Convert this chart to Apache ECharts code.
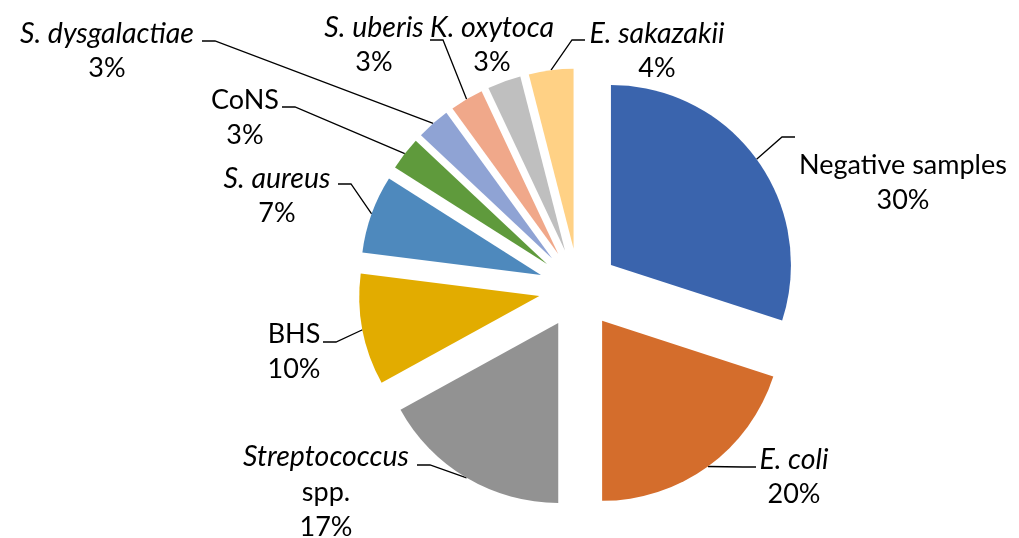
<!DOCTYPE html>
<html><head><meta charset="utf-8">
<script src="https://cdn.jsdelivr.net/npm/echarts@6/dist/echarts.min.js"></script>
<style>html,body{margin:0;padding:0;background:#fff}#c{width:1019px;height:538px}</style>
</head><body><div id="c"></div>
<script>
const categories = ['Negative samples','E. coli','Streptococcus spp.','BHS','S. aureus','CoNS','S. dysgalactiae','S. uberis','K. oxytoca','E. sakazakii'];
const values = [30,20,17,10,7,3,3,3,3,4];
// label text lines; '*' prefix marks italic text
const labelLines = [['Negative samples'],['*E. coli'],['*Streptococcus','spp.'],['BHS'],['*S. aureus'],['CoNS'],['*S. dysgalactiae'],['*S. uberis'],['*K. oxytoca'],['*E. sakazakii']];
const colors = ['#3A64AD','#D46D2C','#929292','#E2AC00','#4E89BD','#5F9A3C','#8FA3D4','#F0A88A','#BFBFBF','#FFD185'];

// layout constants
const CX = 578.6, CY = 288.5, R = 180, EXPLODE = 40;
const labelCenters = [[903,183],[794,477],[326,492],[294,352],[277,196],[245,118],[107,51],[374,45],[492,45],[657,51]];
const lineEnds = [[795,137],[756,467],[417,465],[323,342],[338,184],[282,107],[202,41],[430,40],null,[585,40]];
const FONT = 'Lato';
const FS = 27, FSI = 28.5;

const total = values.reduce((a,b)=>a+b,0);
const midAngles = [];
{ let acc = 0; values.forEach(v => { midAngles.push((acc + v/2) / total * 2 * Math.PI); acc += v; }); }

const baseData = categories.map((n,i) => ({name: n, value: values[i]}));

const chart = echarts.init(document.getElementById('c'), null, {renderer:'canvas'});
chart.setOption({
  animation: false,
  backgroundColor: '#fff',
  series: [{
    // exploded slices
    type: 'pie',
    center: [CX, CY],
    radius: R,
    startAngle: 90,
    clockwise: true,
    selectedMode: 'multiple',
    selectedOffset: EXPLODE,
    emphasis: {disabled: true},
    label: {show: false},
    labelLine: {show: false},
    data: baseData.map((d,i) => Object.assign({}, d, {selected: true, itemStyle: {color: colors[i]}}))
  }, {
    // labels and leader lines (invisible sectors)
    type: 'pie',
    center: [CX, CY],
    radius: R,
    startAngle: 90,
    clockwise: true,
    silent: true,
    avoidLabelOverlap: false,
    itemStyle: {color: 'rgba(0,0,0,0)'},
    emphasis: {disabled: true},
    data: baseData.map((d,i) => Object.assign({}, d, {labelLine: {show: lineEnds[i] != null}})),
    label: {
      show: true,
      position: 'outside',
      color: '#000',
      formatter: p => labelLines[p.dataIndex].map(l => l[0] === '*' ? '{i|' + l.slice(1) + '}' : '{n|' + l + '}')
        .concat('{n|' + Math.round(p.percent) + '%}').join('\n'),
      rich: {
        i: {fontStyle: 'italic', fontFamily: FONT, fontSize: FSI, lineHeight: 35, color: '#000'},
        n: {fontFamily: FONT, fontSize: FS, lineHeight: 35, color: '#000'}
      }
    },
    labelLine: {show: true, lineStyle: {color: '#000', width: 1.3}},
    labelLayout: function (p) {
      const i = p.dataIndex;
      const c = labelCenters[i];
      const res = {x: c[0], y: c[1], align: 'center', verticalAlign: 'middle'};
      const e = lineEnds[i];
      if (e) {
        const a = midAngles[i];
        const s = [CX + (R + EXPLODE) * Math.sin(a), CY - (R + EXPLODE) * Math.cos(a)];
        const elbow = [e[0] + (e[0] < CX ? 13 : -13), e[1]];
        res.labelLinePoints = [s, elbow, e];
      }
      return res;
    }
  }]
});
</script></body></html>
